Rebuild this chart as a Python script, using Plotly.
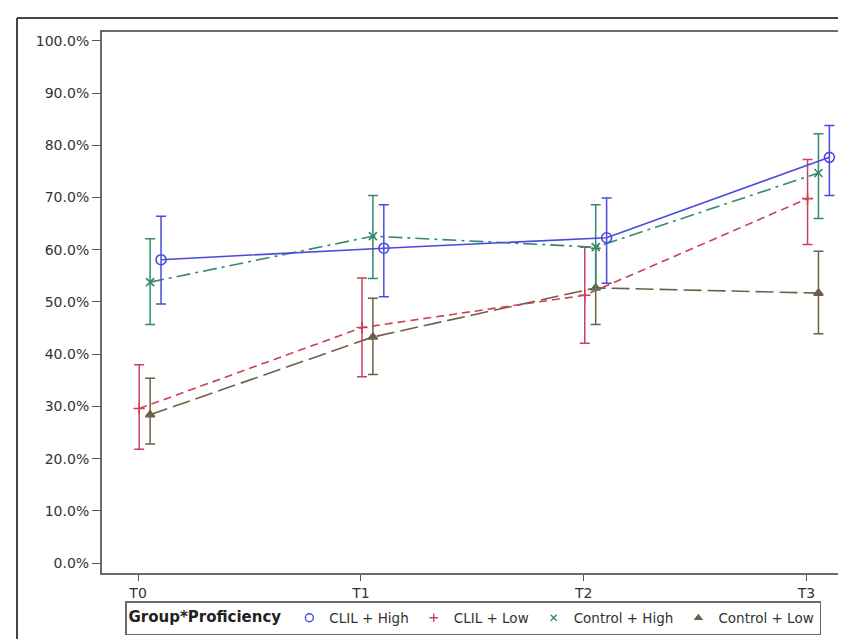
import plotly.graph_objects as go

# ---- data ----
time_points = ["T0", "T1", "T2", "T3"]
groups = ["CLIL + High", "CLIL + Low", "Control + High", "Control + Low"]

clil_high_mean = [58.1, 60.3, 62.3, 77.7]
clil_high_lower = [49.6, 51.0, 53.6, 70.4]
clil_high_upper = [66.4, 68.6, 69.9, 83.8]

clil_low_mean = [29.6, 45.1, 51.3, 69.8]
clil_low_lower = [21.8, 35.7, 42.1, 61.0]
clil_low_upper = [38.0, 54.6, 60.5, 77.3]

control_high_mean = [53.8, 62.6, 60.5, 74.7]
control_high_lower = [45.7, 54.5, 52.5, 66.0]
control_high_upper = [62.1, 70.4, 68.6, 82.2]

control_low_mean = [28.4, 43.3, 52.7, 51.7]
control_low_lower = [22.8, 36.1, 45.7, 43.9]
control_low_upper = [35.4, 50.7, 60.3, 59.7]

y_ticks = [0, 10, 20, 30, 40, 50, 60, 70, 80, 90, 100]

# ---- styles ----
series = [
    dict(name=groups[0], mean=clil_high_mean, lo=clil_high_lower, hi=clil_high_upper,
         color="#4a4ade", dash="solid", symbol="circle-open", size=10, offset=0.103),
    dict(name=groups[1], mean=clil_low_mean, lo=clil_low_lower, hi=clil_low_upper,
         color="#cc4058", dash="8px,5px", symbol="cross-thin-open", size=8, offset=0.005),
    dict(name=groups[2], mean=control_high_mean, lo=control_high_lower, hi=control_high_upper,
         color="#338a6c", dash="14px,5px,3px,5px", symbol="x-thin-open", size=8, offset=0.054),
    dict(name=groups[3], mean=control_low_mean, lo=control_low_lower, hi=control_low_upper,
         color="#6e6044", dash="18px,6px", symbol="triangle-up", size=8, offset=0.054),
]

fig = go.Figure()
draw_order = [3, 1, 2, 0]
for i in draw_order:
    s = series[i]
    xs = [k + s["offset"] for k in range(len(time_points))]
    fig.add_trace(go.Scatter(
        x=xs, y=s["mean"], mode="lines+markers", name=s["name"], showlegend=False,
        line=dict(color=s["color"], width=1.6, dash=s["dash"]),
        marker=dict(symbol=s["symbol"], size=s["size"], color=s["color"],
                    line=dict(color=s["color"], width=1.6)),
        error_y=dict(type="data", symmetric=False,
                     array=[h - m for h, m in zip(s["hi"], s["mean"])],
                     arrayminus=[m - l for m, l in zip(s["mean"], s["lo"])],
                     color=s["color"], thickness=1.5, width=5),
    ))

# legend entries (marker only)
for s in series:
    fig.add_trace(go.Scatter(
        x=[None], y=[None], mode="markers", name=s["name"],
        marker=dict(symbol=s["symbol"], size=s["size"] - 2, color=s["color"],
                    line=dict(color=s["color"], width=1.4)),
    ))

W, H = 846, 639
L, R, T, B = 94, 3, 24, 74
pw, ph = W - L - R, H - T - B

def px_x(p):
    return (p - L) / pw

def px_y(p):
    return (H - B - p) / ph

font_family = "DejaVu Sans, Liberation Sans, Arial, sans-serif"

fig.update_layout(
    width=W, height=H,
    margin=dict(l=L, r=R, t=T, b=B, autoexpand=False),
    paper_bgcolor="white", plot_bgcolor="white",
    font=dict(family=font_family, size=14, color="#333333"),
    xaxis=dict(
        range=[-0.162, 3.20], tickmode="array",
        tickvals=list(range(len(time_points))), ticktext=time_points,
        showgrid=False, zeroline=False,
        showline=True, linecolor="#6a6a6a", linewidth=2, mirror=True,
        ticks="outside", ticklen=6, tickwidth=1, tickcolor="#555555",
        tickfont=dict(size=14, color="#333333"),
    ),
    yaxis=dict(
        range=[-1.9, 101.7], tickmode="array", tickvals=y_ticks,
        ticktext=[f"{v:.1f}%" for v in y_ticks],
        showgrid=False, zeroline=False,
        showline=True, linecolor="#6a6a6a", linewidth=2, mirror=True,
        ticks="outside", ticklen=8, tickwidth=1, tickcolor="#555555",
        tickfont=dict(size=14, color="#333333"),
    ),
    legend=dict(
        orientation="h", x=px_x(117), xanchor="left", y=px_y(593), yanchor="top",
        bordercolor="#6a6a6a", borderwidth=1.5, bgcolor="white",
        font=dict(size=13.5, color="#333333"),
        title=dict(text="<b>Group*Proficiency</b>", side="left",
                   font=dict(size=15, color="#222222")),
        itemwidth=30, tracegroupgap=0,
    ),
    shapes=[
        dict(type="line", xref="paper", yref="paper",
             x0=px_x(9), x1=px_x(9), y0=px_y(645), y1=px_y(10),
             line=dict(color="#444444", width=2)),
        dict(type="line", xref="paper", yref="paper",
             x0=px_x(9), x1=px_x(850), y0=px_y(10), y1=px_y(10),
             line=dict(color="#444444", width=2)),
    ],
)

fig.write_html("out.html")
